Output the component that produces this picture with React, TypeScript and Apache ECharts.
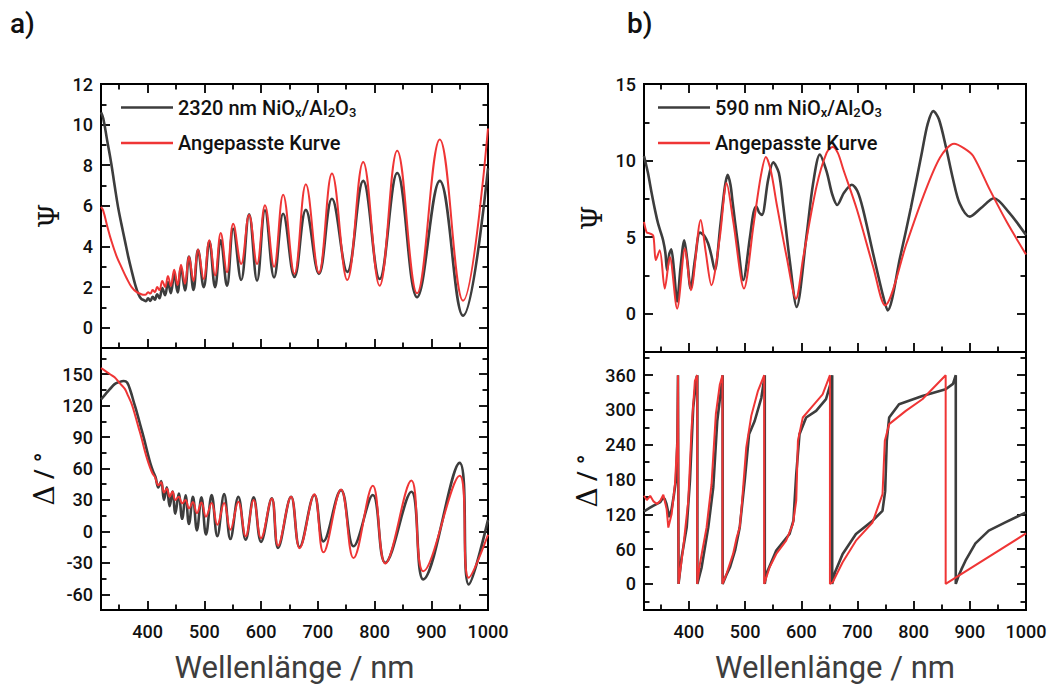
import React, { useEffect, useRef } from "react";
import * as echarts from "echarts";

// ---------- tick values ----------
const X_MAJOR = [400, 500, 600, 700, 800, 900, 1000];
const X_MINOR = [350, 450, 550, 650, 750, 850, 950];
const A_PSI_MAJOR = [0, 2, 4, 6, 8, 10, 12];
const A_PSI_MINOR = [1, 3, 5, 7, 9, 11];
const A_DELTA_MAJOR = [-60, -30, 0, 30, 60, 90, 120, 150];
const A_DELTA_MINOR = [-45, -15, 15, 45, 75, 105, 135, 165];
const B_PSI_MAJOR = [0, 5, 10, 15];
const B_PSI_MINOR = [2.5, 7.5, 12.5];
const B_DELTA_MAJOR = [0, 60, 120, 180, 240, 300, 360];
const B_DELTA_MINOR = [-30, 30, 90, 150, 210, 270, 330, 390];

// ---------- series names ----------
const A_MEAS = "2320 nm NiOx/Al2O3";
const B_MEAS = "590 nm NiOx/Al2O3";
const FIT = "Angepasste Kurve";

// ---------- data: [wavelength nm, value] ----------
const aPsiMeasured = [
  [318, 10.6], [322, 10.3], [329, 9.2], [336, 8.1], [342, 7.0], [348, 5.95], [354, 5.1], [360, 4.3], [366, 3.5],
  [372, 2.8], [378, 2.15], [384, 1.65], [389, 1.42], [394, 1.35], [397, 1.3], [401, 1.45], [405, 1.32], [409, 1.52],
  [413, 1.38], [417, 1.65], [421, 1.45], [426, 1.95], [431, 1.6], [436, 2.25], [441, 1.7], [447, 2.65], [453, 1.74],
  [459, 2.95], [466, 1.83], [473, 3.5], [481, 1.86], [489, 3.83], [499, 1.99], [509, 4.25], [519, 1.99], [529, 4.3],
  [540, 2.07], [551, 4.87], [565, 2.35], [579, 5.58], [593, 2.32], [607, 5.78], [623, 2.48], [639, 5.61], [659, 2.5],
  [679, 5.8], [702, 2.65], [725, 6.35], [752, 2.75], [780, 7.23], [809, 2.4], [840, 7.62], [875, 1.5], [915, 7.23],
  [956, 0.59], [1000, 7.85],
];
const aPsiFit = [
  [318, 5.95], [322, 5.75], [329, 5.0], [336, 4.3], [345, 3.55], [354, 2.98], [363, 2.45], [372, 2.0], [381, 1.75],
  [389, 1.65], [394, 1.62], [397, 1.63], [401, 1.75], [405, 1.68], [409, 1.85], [413, 1.75], [417, 2.0], [421, 1.85],
  [426, 2.3], [431, 2.0], [436, 2.55], [441, 2.05], [447, 2.85], [453, 2.1], [459, 3.1], [466, 2.16], [473, 3.5],
  [481, 2.3], [489, 3.85], [499, 2.4], [509, 4.3], [519, 2.57], [529, 4.66], [540, 2.73], [551, 5.12], [565, 3.14],
  [579, 5.55], [593, 3.14], [607, 6.03], [623, 3.0], [639, 6.55], [659, 2.65], [679, 7.06], [702, 2.7], [725, 7.59],
  [752, 2.35], [780, 8.16], [809, 2.07], [840, 8.71], [875, 1.69], [915, 9.27], [956, 1.33], [1000, 9.81],
];
const aDeltaMeasured = [
  [318, 126], [326, 131], [334, 136], [342, 140.5], [350, 142.5], [358, 143.5], [364, 142], [370, 134], [376, 123],
  [382, 112], [388, 100], [394, 88], [400, 75], [405, 65], [410, 57], [414, 52], [419, 42], [424, 48], [429, 30],
  [434, 42], [439, 24], [444, 38], [449, 17], [455, 36], [461, 12], [467, 34.5], [473, 7], [480, 33], [487, 1],
  [495, 32.5], [503, -3], [513, 34.7], [523, -4.5], [535, 35.6], [546, -7.3], [560, 33], [573, -8], [587, 32.5],
  [600, -10], [619, 31.5], [630, -15.8], [653, 33], [668, -15], [694, 34.7], [710, -9.5], [741, 39.4], [763, -14.2],
  [797, 34.7], [819, -30], [865, 37.9], [886, -45.8], [950, 65.4], [966, -50.6], [1000, 11],
];
const aDeltaFit = [
  [318, 155.7], [326, 153], [334, 150], [342, 147], [350, 142], [360, 136], [366, 129], [372, 121.6], [378, 111],
  [384, 99.5], [390, 88], [395, 77.3], [400, 68], [404, 61.6], [409, 55], [413, 52], [419, 44], [424, 47], [429, 37],
  [434, 41], [439, 33], [444, 38], [449, 30], [455, 33], [461, 26.8], [467, 30], [473, 22], [480, 28], [487, 17.3],
  [495, 27.5], [503, 14], [513, 27], [523, 6.3], [535, 27], [546, 1.5], [560, 28.4], [573, -4.7], [587, 30],
  [600, -6.5], [619, 31.5], [630, -13.6], [653, 33], [668, -16], [694, 35.5], [710, -20], [741, 40], [763, -25.5],
  [797, 43.5], [819, -30.6], [865, 48.5], [886, -38], [950, 53], [966, -44.2], [1000, -3.2],
];
const bPsiMeasured = [
  [320, 10.3], [327, 9.2], [333.5, 7.9], [340, 6.7], [345, 5.9], [350, 5.3], [354, 4.8], [358, 4.0], [361, 2.84],
  [365, 3.9], [368.5, 4.2], [373, 3.0], [379, 0.8], [385, 3.0], [391.7, 4.8], [397, 3.5], [403, 1.64], [411, 3.6],
  [419.6, 5.3], [427, 5.1], [434, 4.6], [440, 3.8], [446, 2.84], [456, 5.8], [464, 8.3], [469, 9.07], [474, 8.4],
  [478, 7.2], [487, 4.6], [496.7, 2.19], [508.6, 5.0], [515, 6.6], [520, 7.0], [525, 6.6], [530, 6.45], [541, 8.75],
  [550, 9.88], [560, 9.2], [568, 7.0], [580, 3.3], [591.7, 0.44], [609, 5.0], [621, 8.5], [633, 10.39], [645, 9.3],
  [655, 7.8], [664, 7.1], [676, 7.9], [690, 8.42], [700, 8.0], [710, 6.8], [728, 3.9], [746, 1.1], [753.7, 0.22],
  [776, 3.7], [795, 6.9], [815, 10.6], [825, 12.4], [835, 13.23], [845, 12.7], [858, 10.8], [870, 8.8], [882, 7.2],
  [900, 6.34], [920, 6.9], [943, 7.54], [970, 6.6], [1000, 5.14],
];
const bPsiFit = [
  [320, 6.0], [325, 5.3], [330, 5.25], [336.5, 5.1], [341, 3.5], [348, 4.15], [357, 1.64], [366, 3.7], [379, 0.33],
  [393, 4.26], [403.6, 1.53], [421, 6.12], [430, 4.0], [440, 1.86], [455, 5.0], [467, 8.53], [479, 6.0], [498, 1.64],
  [515, 5.8], [528, 9.0], [537, 10.23], [546, 9.3], [556, 7.2], [574, 3.7], [590.5, 0.98], [603.6, 3.7], [627, 8.3],
  [645, 10.5], [655.8, 10.89], [665, 10.5], [675, 9.4], [699, 6.8], [728, 3.06], [749, 0.55], [787.5, 4.6],
  [817, 7.65], [847, 10.2], [872, 11.1], [890, 10.8], [906, 10.3], [935.5, 8.1], [965.6, 6.0], [1000, 3.87],
];
const bDeltaMeasured = [
  [320, 125], [330, 131], [337, 135], [343, 138], [349, 141], [354, 149], [357, 146], [360, 138], [365, 115],
  [369, 128], [373, 152], [377, 180], [379.5, 250], [380.5, 360], [381.5, 0], [387, 46], [396, 97.5], [401.8, 178],
  [407.6, 304], [413.6, 357], [415, 360], [415, 0], [422.6, 28.6], [434.4, 97.5], [443.3, 166.4], [450.4, 281],
  [457.5, 338.6], [460, 360], [460, 0], [466, 14], [473, 28.7], [482, 57.4], [490.4, 97.5], [499.3, 178], [507, 258],
  [517, 281], [528.9, 321], [535, 360], [535, 0], [537.7, 17], [555.4, 57.4], [579, 86], [586, 109], [591, 189],
  [596.8, 258], [608.6, 287], [626.4, 298.5], [644, 318.6], [652, 345], [655, 360], [655, 0], [660, 20], [673.6, 51.7],
  [697.3, 86], [726.8, 109], [744.5, 126], [749.3, 160], [752.2, 247], [756.4, 287], [774, 310], [815.5, 324],
  [857, 335.8], [870, 345], [875, 360], [875, 0], [880, 14], [885, 25], [892.3, 40], [910, 70], [933.7, 92],
  [963.2, 106], [1000, 123.4],
];
const bDeltaFit = [
  [320, 152], [325, 144.6], [331, 152], [337, 142.3], [343, 137.8], [349, 143.5], [354.4, 153.8], [360.3, 129],
  [363.3, 97.2], [369.2, 120.4], [375.1, 172.2], [379.3, 246.8], [380.5, 360], [381.5, 0], [389.9, 63], [398.8, 143],
  [404.8, 270], [410.6, 350], [414.7, 360], [414.7, 0], [419.5, 34.4], [431.4, 97.5], [440.2, 172], [447.9, 293],
  [455, 344], [459.7, 360], [459.7, 0], [466.8, 17], [478.6, 51.7], [485, 80], [490.4, 97.6], [494, 135], [502, 235],
  [511, 290], [522.9, 333], [534, 360], [534, 0], [543.6, 28.7], [555.4, 51.7], [573, 74.6], [585, 103], [591, 143.5],
  [594, 247], [602.7, 287], [620.4, 307], [638, 327], [651, 360], [651, 0], [655.9, 2.9], [673.6, 37.3], [697.3, 74.6],
  [726.8, 106], [744.6, 155], [748.7, 247], [756.4, 275.6], [786, 298.5], [815.5, 318.6], [857, 360], [857, 0],
  [1000, 87],
];

// ---------- layout ----------
const GRIDS = [
  { left: 101, top: 84, width: 387, height: 264 },
  { left: 101, top: 348, width: 387, height: 262 },
  { left: 644, top: 84, width: 382, height: 268 },
  { left: 644, top: 352, width: 382, height: 258 },
];
const FONT = "Roboto, 'Noto Sans', sans-serif";
const GREEK = "'DejaVu Serif', 'Liberation Serif', serif";
const DARK = "#3d3d3d";
const RED = "#ef3535";
const LABEL_WEIGHT = 500;
const MAJOR_LEN = 8;
const MINOR_LEN = 4.5;
const fmt = (v: number) => String(v);

const GREEK_RICH = {
  g: { fontFamily: GREEK, fontSize: 28, color: "#111" },
  t: { fontFamily: FONT, fontSize: 26, color: "#111", fontWeight: LABEL_WEIGHT },
};

function tickStyle(values: number[], len: number) {
  return { show: true, inside: true, length: len, customValues: values, lineStyle: { color: "#000", width: 1.8 } };
}

function lineSeries(name: string, xi: number, yi: number, data: number[][], color: string, width: number, smooth: number | boolean) {
  return {
    type: "line", name, data, xAxisIndex: xi, yAxisIndex: yi, showSymbol: false, symbol: "none",
    smooth, lineStyle: { color, width }, itemStyle: { color }, silent: true, clip: true, z: 3,
  };
}

function legendFor(left: number, data: string[]) {
  return {
    left, top: 91, orient: "vertical", icon: "rect", itemWidth: 52, itemHeight: 2.5, itemGap: 13, selectedMode: false,
    data, formatter: (n: string) => n.replace("NiOx/Al2O3", "NiO{s|x}/Al{s|2}O{s|3}"),
    textStyle: {
      fontSize: 20, color: "#111", fontFamily: FONT, fontWeight: LABEL_WEIGHT, lineHeight: 22,
      rich: { s: { fontSize: 13, fontFamily: FONT, fontWeight: LABEL_WEIGHT, color: "#111", lineHeight: 22, padding: [10, 0, 0, 0] } },
    },
  };
}

export default function App() {
  const ref = useRef<HTMLDivElement>(null);
  useEffect(() => {
    if (!ref.current) return;
    const chart = echarts.init(ref.current, undefined, { renderer: "svg" });
    const psiName = { text: "{g|Ψ}", gap: 38 };
    const deltaName = { text: "{g|Δ}{t| / °}", gap: 38 };
    const panels = [
      { xr: [318, 1000], yr: [-1, 12], maj: A_PSI_MAJOR, min: A_PSI_MINOR, bottom: false, name: psiName, meas: A_MEAS, m: aPsiMeasured, f: aPsiFit, smooth: 0.4 as number | boolean },
      { xr: [318, 1000], yr: [-75, 175], maj: A_DELTA_MAJOR, min: A_DELTA_MINOR, bottom: true, name: deltaName, meas: A_MEAS, m: aDeltaMeasured, f: aDeltaFit, smooth: 0.4 as number | boolean },
      { xr: [320, 1000], yr: [-2.5, 15], maj: B_PSI_MAJOR, min: B_PSI_MINOR, bottom: false, name: psiName, meas: B_MEAS, m: bPsiMeasured, f: bPsiFit, smooth: 0.3 as number | boolean },
      { xr: [320, 1000], yr: [-45, 400], maj: B_DELTA_MAJOR, min: B_DELTA_MINOR, bottom: true, name: deltaName, meas: B_MEAS, m: bDeltaMeasured, f: bDeltaFit, smooth: false as number | boolean },
    ];

    const xAxes: any[] = [];
    const yAxes: any[] = [];
    const series: any[] = [];
    const pushX = (o: any) => { xAxes.push(o); return xAxes.length - 1; };
    const pushY = (o: any) => { yAxes.push(o); return yAxes.length - 1; };

    panels.forEach((p, gi) => {
      const g = GRIDS[gi];
      const hidden = { type: "value", gridIndex: gi, show: false, splitLine: { show: false } };
      const mainX = pushX({
        type: "value", gridIndex: gi, min: p.xr[0], max: p.xr[1], position: "bottom",
        splitLine: { show: false }, axisLine: { show: false, onZero: false }, axisTick: { show: false },
        axisLabel: { show: p.bottom, customValues: X_MAJOR, formatter: fmt, fontSize: 18, fontWeight: LABEL_WEIGHT, color: "#111", fontFamily: FONT, margin: 12 },
        name: p.bottom ? "Wellenlänge / nm" : "", nameLocation: "middle", nameGap: 42,
        nameTextStyle: { fontSize: 31, color: DARK, fontFamily: FONT },
      });
      const mainY = pushY({
        type: "value", gridIndex: gi, min: p.yr[0], max: p.yr[1], position: "left",
        splitLine: { show: false }, axisLine: { show: false, onZero: false }, axisTick: { show: false },
        axisLabel: { show: true, customValues: p.maj, formatter: fmt, fontSize: 18, fontWeight: LABEL_WEIGHT, color: "#111", fontFamily: FONT, margin: 8 },
        name: p.name.text, nameLocation: "middle", nameGap: p.name.gap, nameRotate: 90,
        nameTextStyle: { fontSize: 26, color: "#111", fontFamily: FONT, rich: GREEK_RICH },
      });
      // helper axes whose zero lies one pixel inside each frame edge; tick axes sit on those zeros
      const ax = 1 / (g.width - 1);
      const ay = 1 / (g.height - 1);
      const auxXl = pushX({ ...hidden, min: -ax, max: 1 });
      const auxXr = pushX({ ...hidden, min: -1, max: ax });
      const auxYb = pushY({ ...hidden, min: -ay, max: 1 });
      const auxYt = pushY({ ...hidden, min: -1, max: ay });

      const tickX = (pos: string, zeroIdx: number, vals: number[], len: number) => pushX({
        type: "value", gridIndex: gi, min: p.xr[0], max: p.xr[1], position: pos, silent: true,
        splitLine: { show: false }, axisLabel: { show: false },
        axisLine: { show: false, onZero: true, onZeroAxisIndex: zeroIdx }, axisTick: tickStyle(vals, len),
      });
      const tickY = (pos: string, zeroIdx: number, vals: number[], len: number) => pushY({
        type: "value", gridIndex: gi, min: p.yr[0], max: p.yr[1], position: pos, silent: true,
        splitLine: { show: false }, axisLabel: { show: false },
        axisLine: { show: false, onZero: true, onZeroAxisIndex: zeroIdx }, axisTick: tickStyle(vals, len),
      });
      tickX("bottom", auxYb, X_MAJOR, MAJOR_LEN);
      tickX("bottom", auxYb, X_MINOR, MINOR_LEN);
      if (!p.bottom) {
        tickX("top", auxYt, X_MAJOR, MAJOR_LEN);
        tickX("top", auxYt, X_MINOR, MINOR_LEN);
      }
      tickY("left", auxXl, p.maj, MAJOR_LEN);
      tickY("left", auxXl, p.min, MINOR_LEN);
      tickY("right", auxXr, p.maj, MAJOR_LEN);
      tickY("right", auxXr, p.min, MINOR_LEN);

      series.push(lineSeries(p.meas, mainX, mainY, p.m, DARK, 2.6, p.smooth));
      series.push(lineSeries(FIT, mainX, mainY, p.f, RED, 2, p.smooth));
    });

    chart.setOption({
      animation: false,
      textStyle: { fontFamily: FONT },
      grid: GRIDS.map((g) => ({ ...g, containLabel: false, show: true, borderColor: "#000", borderWidth: 2, backgroundColor: "transparent" })),
      xAxis: xAxes,
      yAxis: yAxes,
      legend: [legendFor(116, [A_MEAS, FIT]), legendFor(653, [B_MEAS, FIT])],
      graphic: [
        { type: "text", left: 10, top: 9, style: { text: "a)", fontSize: 28, fontWeight: LABEL_WEIGHT, fill: "#111", fontFamily: FONT } },
        { type: "text", left: 627, top: 9, style: { text: "b)", fontSize: 28, fontWeight: LABEL_WEIGHT, fill: "#111", fontFamily: FONT } },
      ],
      series,
    });
    return () => chart.dispose();
  }, []);
  return <div ref={ref} style={{ position: "fixed", left: 0, top: 0, width: 1052, height: 693, background: "#fff" }} />;
}
